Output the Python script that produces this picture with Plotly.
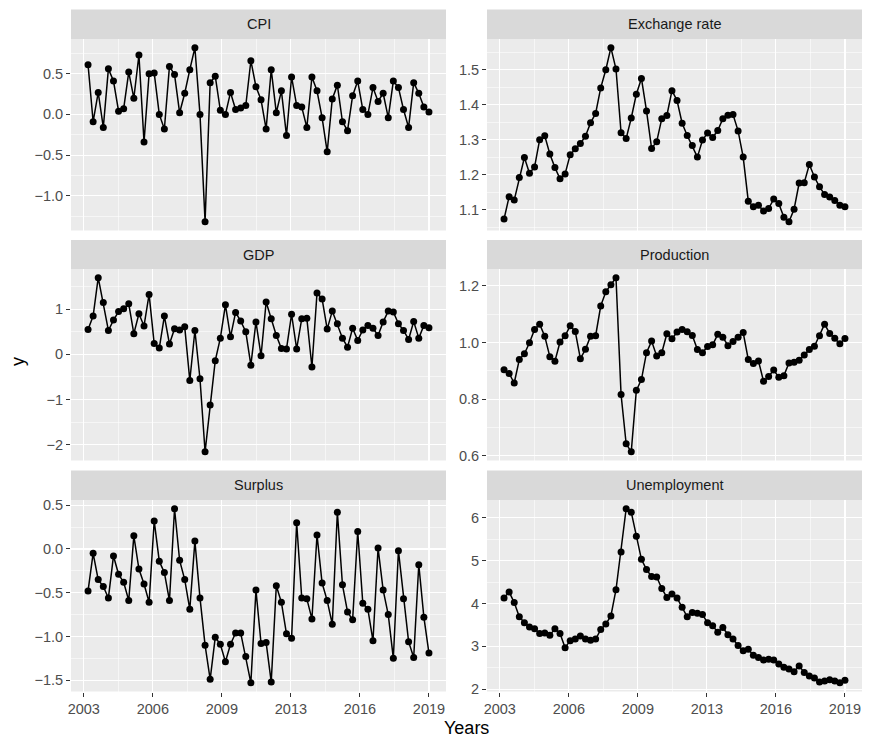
import numpy as np
import plotly.graph_objects as go

# ---------------- data ----------------
n_quarters = 68  # 2003 Q1 .. 2019 Q4
x_years = 2003 + 0.25 * np.arange(n_quarters)

cpi = [0.61, -0.09, 0.27, -0.16, 0.56, 0.41, 0.04, 0.07, 0.52, 0.20,
       0.73, -0.34, 0.50, 0.51, 0.00, -0.18, 0.59, 0.49, 0.02, 0.26,
       0.55, 0.82, 0.00, -1.32, 0.39, 0.47, 0.05, 0.00, 0.27, 0.06,
       0.08, 0.11, 0.66, 0.34, 0.18, -0.18, 0.55, 0.02, 0.29, -0.26,
       0.46, 0.11, 0.09, -0.16, 0.46, 0.29, -0.04, -0.46, 0.19, 0.36,
       -0.09, -0.20, 0.23, 0.41, 0.06, 0.00, 0.33, 0.16, 0.26, -0.04,
       0.41, 0.33, 0.06, -0.16, 0.39, 0.26, 0.09, 0.03]

exchange_rate = [1.073, 1.137, 1.127, 1.192, 1.249, 1.204, 1.222, 1.300, 1.311, 1.259,
                 1.220, 1.188, 1.202, 1.257, 1.274, 1.289, 1.310, 1.348, 1.375, 1.448,
                 1.500, 1.563, 1.502, 1.320, 1.303, 1.362, 1.430, 1.475, 1.382, 1.275,
                 1.294, 1.360, 1.369, 1.440, 1.412, 1.347, 1.312, 1.283, 1.250, 1.299,
                 1.319, 1.306, 1.326, 1.360, 1.370, 1.372, 1.325, 1.250, 1.124, 1.108,
                 1.112, 1.096, 1.103, 1.130, 1.117, 1.078, 1.065, 1.101, 1.176, 1.177,
                 1.229, 1.193, 1.165, 1.143, 1.136, 1.126, 1.112, 1.108]

gdp = [0.55, 0.85, 1.70, 1.15, 0.53, 0.76, 0.95, 1.01, 1.12, 0.46,
       0.90, 0.63, 1.33, 0.24, 0.14, 0.85, 0.23, 0.57, 0.54, 0.61,
       -0.58, 0.53, -0.54, -2.16, -1.12, -0.14, 0.36, 1.10, 0.39, 0.93,
       0.74, 0.50, -0.24, 0.72, -0.03, 1.16, 0.79, 0.42, 0.13, 0.12,
       0.89, 0.12, 0.79, 0.80, -0.28, 1.36, 1.23, 0.56, 0.96, 0.68,
       0.36, 0.16, 0.58, 0.31, 0.54, 0.64, 0.58, 0.42, 0.72, 0.96,
       0.94, 0.68, 0.53, 0.33, 0.73, 0.36, 0.64, 0.59]

production = [0.904, 0.891, 0.857, 0.940, 0.960, 0.999, 1.046, 1.065, 1.022, 0.950,
              0.934, 1.002, 1.024, 1.059, 1.039, 0.943, 0.976, 1.022, 1.024, 1.129,
              1.179, 1.204, 1.229, 0.816, 0.642, 0.614, 0.831, 0.869, 0.964, 1.005,
              0.952, 0.964, 1.031, 1.013, 1.037, 1.046, 1.038, 1.025, 0.975, 0.964,
              0.986, 0.992, 1.029, 1.019, 0.989, 1.004, 1.019, 1.035, 0.940, 0.926,
              0.935, 0.863, 0.880, 0.903, 0.877, 0.883, 0.928, 0.930, 0.937, 0.956,
              0.975, 0.987, 1.024, 1.065, 1.032, 1.015, 0.996, 1.014]

surplus = [-0.48, -0.05, -0.35, -0.43, -0.56, -0.08, -0.29, -0.38, -0.59, 0.15,
           -0.23, -0.40, -0.61, 0.32, -0.14, -0.27, -0.59, 0.46, -0.13, -0.35,
           -0.69, 0.09, -0.56, -1.10, -1.49, -1.01, -1.09, -1.29, -1.09, -0.96,
           -0.96, -1.23, -1.53, -0.47, -1.08, -1.07, -1.52, -0.42, -0.61, -0.97,
           -1.02, 0.30, -0.56, -0.57, -0.80, 0.16, -0.39, -0.59, -0.86, 0.42,
           -0.41, -0.72, -0.81, 0.20, -0.62, -0.69, -1.05, 0.01, -0.47, -0.75,
           -1.25, -0.02, -0.57, -1.06, -1.24, -0.18, -0.78, -1.19]

unemployment = [4.13, 4.27, 4.02, 3.69, 3.55, 3.45, 3.41, 3.30, 3.31, 3.26,
                3.41, 3.30, 2.97, 3.13, 3.17, 3.24, 3.17, 3.14, 3.17, 3.39,
                3.52, 3.71, 4.32, 5.20, 6.21, 6.13, 5.57, 5.03, 4.79, 4.63,
                4.62, 4.35, 4.14, 4.22, 4.13, 3.91, 3.69, 3.79, 3.77, 3.74,
                3.55, 3.48, 3.33, 3.44, 3.27, 3.17, 3.02, 2.90, 2.93, 2.79,
                2.74, 2.68, 2.70, 2.68, 2.59, 2.51, 2.47, 2.41, 2.54, 2.39,
                2.31, 2.26, 2.17, 2.19, 2.22, 2.19, 2.15, 2.21]

x_tick_labels = ["2003", "2006", "2009", "2013", "2016", "2019"]

panels = [
    ("CPI", cpi, [-1.0, -0.5, 0.0, 0.5], ".1f"),
    ("Exchange rate", exchange_rate, [1.1, 1.2, 1.3, 1.4, 1.5], ".1f"),
    ("GDP", gdp, [-2, -1, 0, 1], "d"),
    ("Production", production, [0.6, 0.8, 1.0, 1.2], ".1f"),
    ("Surplus", surplus, [-1.5, -1.0, -0.5, 0.0, 0.5], ".1f"),
    ("Unemployment", unemployment, [2, 3, 4, 5, 6], "d"),
]

# ---------------- layout geometry (pixels) ----------------
W, H = 872, 747
col_x = [(71, 446), (487, 862)]
row_strip = [(9.5, 39), (240, 269), (470.5, 500)]
row_panel = [(39, 230.5), (269, 460.5), (500, 691.5)]

def fx(p):
    return p / W

def fy(p):
    return 1 - p / H

FONT = "Liberation Sans, Arial, Helvetica, sans-serif"
PANEL_BG = "#EBEBEB"
STRIP_BG = "#D9D9D9"
TICK_SIZE = 14.5

fig = go.Figure()

# x axis common settings
x0, x1 = x_years[0], x_years[-1]
span = x1 - x0
x_range = [x0 - 0.05 * span, x1 + 0.05 * span]
x_ticks = np.linspace(x0 - 0.21, x1, len(x_tick_labels))
step = x_ticks[1] - x_ticks[0]
x_minor = [t + step / 2 for t in x_ticks[:-1]]
x_minor += [t for t in [x_ticks[0] - step / 2, x_ticks[-1] + step / 2]
            if x_range[0] <= t <= x_range[1]]

shapes = []
annotations = []

for k, (name, vals, yticks, fmt) in enumerate(panels):
    r, c = divmod(k, 2)
    idx = k + 1
    xa = "x" if idx == 1 else f"x{idx}"
    ya = "y" if idx == 1 else f"y{idx}"
    fig.add_trace(go.Scatter(
        x=x_years, y=vals, mode="lines+markers",
        line=dict(color="black", width=1.5),
        marker=dict(color="black", size=7),
        xaxis=xa, yaxis=ya, showlegend=False, hoverinfo="x+y"))

    vmin, vmax = min(vals), max(vals)
    vs = vmax - vmin
    y_range = [vmin - 0.05 * vs, vmax + 0.05 * vs]
    ystep = yticks[1] - yticks[0]
    y_minor = [t + ystep / 2 for t in yticks[:-1]]
    y_minor += [t for t in [yticks[0] - ystep / 2, yticks[-1] + ystep / 2]
                if y_range[0] <= t <= y_range[1]]

    xd = [fx(col_x[c][0]), fx(col_x[c][1])]
    yd = [fy(row_panel[r][1]), fy(row_panel[r][0])]

    xaxis = dict(
        domain=xd, range=x_range, anchor=ya,
        tickmode="array", tickvals=list(x_ticks),
        ticktext=x_tick_labels if r == 2 else [""] * len(x_tick_labels),
        showticklabels=(r == 2),
        ticks="outside" if r == 2 else "", ticklen=4, tickwidth=1, tickcolor="#333333",
        showgrid=True, gridcolor="white", gridwidth=1.1,
        minor=dict(tickmode="array", tickvals=x_minor, showgrid=True,
                   gridcolor="white", gridwidth=0.55, ticks=""),
        zeroline=False, showline=False,
        tickfont=dict(family=FONT, size=TICK_SIZE, color="#4D4D4D"),
        fixedrange=True, automargin=False,
    )
    if idx > 1:
        xaxis["matches"] = "x"
    yaxis = dict(
        domain=yd, range=y_range, anchor=xa,
        tickmode="array", tickvals=yticks,
        ticktext=[format(v, fmt).replace("-", "\u2212") for v in yticks],
        ticks="outside", ticklen=4, tickwidth=1, tickcolor="#333333",
        showgrid=True, gridcolor="white", gridwidth=1.1,
        minor=dict(tickmode="array", tickvals=y_minor, showgrid=True,
                   gridcolor="white", gridwidth=0.55, ticks=""),
        zeroline=False, showline=False,
        tickfont=dict(family=FONT, size=TICK_SIZE, color="#4D4D4D"),
        fixedrange=True, automargin=False,
    )
    fig.layout[f"xaxis{'' if idx == 1 else idx}"] = xaxis
    fig.layout[f"yaxis{'' if idx == 1 else idx}"] = yaxis

    # panel background
    shapes.append(dict(type="rect", xref="paper", yref="paper",
                       x0=xd[0], x1=xd[1], y0=yd[0], y1=yd[1],
                       fillcolor=PANEL_BG, line=dict(width=0), layer="below"))
    # strip
    sy0, sy1 = fy(row_strip[r][1]), fy(row_strip[r][0])
    shapes.append(dict(type="rect", xref="paper", yref="paper",
                       x0=xd[0], x1=xd[1], y0=sy0, y1=sy1,
                       fillcolor=STRIP_BG, line=dict(width=0), layer="below"))
    annotations.append(dict(text=name, xref="paper", yref="paper",
                            x=(xd[0] + xd[1]) / 2, y=(sy0 + sy1) / 2,
                            xanchor="center", yanchor="middle", showarrow=False,
                            font=dict(family=FONT, size=TICK_SIZE, color="#1A1A1A")))

# axis titles
annotations.append(dict(text="Years", xref="paper", yref="paper",
                        x=fx((col_x[0][0] + col_x[1][1]) / 2), y=fy(728),
                        xanchor="center", yanchor="middle", showarrow=False,
                        font=dict(family=FONT, size=18, color="black")))
annotations.append(dict(text="y", xref="paper", yref="paper",
                        x=fx(18), y=fy(362), textangle=-90,
                        xanchor="center", yanchor="middle", showarrow=False,
                        font=dict(family=FONT, size=18, color="black")))

fig.update_layout(
    width=W, height=H,
    margin=dict(l=0, r=0, t=0, b=0),
    paper_bgcolor="white", plot_bgcolor="rgba(0,0,0,0)",
    shapes=shapes, annotations=annotations,
    showlegend=False, hovermode=False,
)

fig.write_html(
    "out.html",
    config={"displayModeBar": False, "staticPlot": True},
    post_script="document.body.style.margin='0';document.body.style.overflow='hidden';",
)
